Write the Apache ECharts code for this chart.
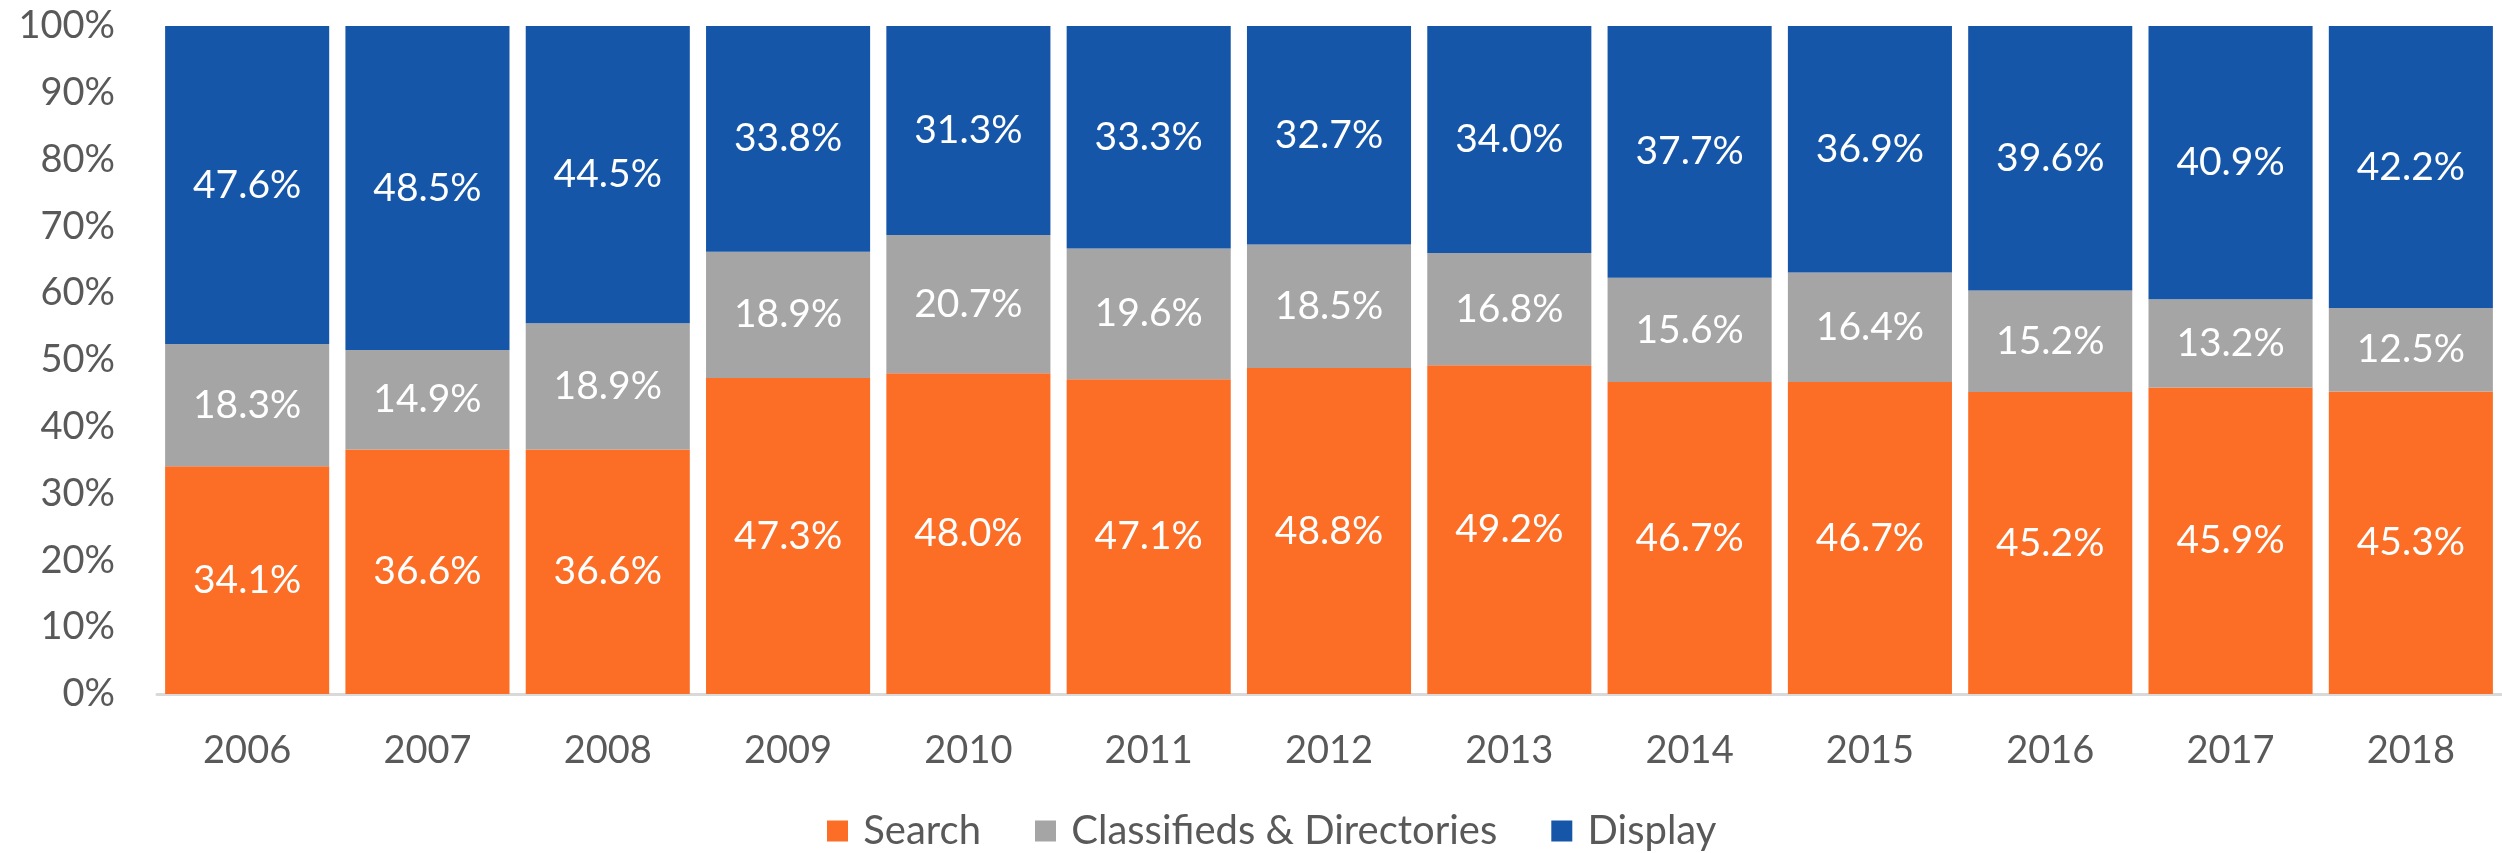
<!DOCTYPE html>
<html>
<head>
<meta charset="utf-8">
<script src="https://cdn.jsdelivr.net/npm/echarts@6/dist/echarts.min.js"></script>
<style>
  html, body { margin: 0; padding: 0; background: #fff; }
  #chart { width: 2502px; height: 853px; }
</style>
</head>
<body>
<div id="chart"></div>
<script>
// data (share of spend, %)
const years = ['2006', '2007', '2008', '2009', '2010', '2011', '2012', '2013', '2014', '2015', '2016', '2017', '2018'];
const search = [34.1, 36.6, 36.6, 47.3, 48.0, 47.1, 48.8, 49.2, 46.7, 46.7, 45.2, 45.9, 45.3];
const classifieds = [18.3, 14.9, 18.9, 18.9, 20.7, 19.6, 18.5, 16.8, 15.6, 16.4, 15.2, 13.2, 12.5];
const display = [47.6, 48.5, 44.5, 33.8, 31.3, 33.3, 32.7, 34.0, 37.7, 36.9, 39.6, 40.9, 42.2];

const font = 'Lato, "Noto Sans", sans-serif';
const textGrey = '#595959';

const myChart = echarts.init(document.getElementById('chart'));

const barLabel = {
  show: true,
  position: 'inside',
  color: '#fff',
  fontFamily: font,
  fontSize: 39,
  formatter: (p) => p.value.toFixed(1) + '%',
};

const makeSeries = (name, data, color) => ({
  name: name,
  type: 'bar',
  stack: 'total',
  barCategoryGap: '9%',
  data: data,
  itemStyle: { color: color },
  label: barLabel,
  emphasis: { disabled: true },
});

const option = {
  animation: false,
  textStyle: { fontFamily: font },
  grid: {
    left: 157,
    right: 1,
    top: 26,
    bottom: 159,
  },
  legend: {
    top: 806,
    left: 822,
    itemWidth: 21,
    itemHeight: 21,
    itemGap: 54,
    icon: 'rect',
    formatter: (name) => ' ' + name,
    textStyle: { fontSize: 40, color: textGrey, fontFamily: font },
    data: ['Search', 'Classifieds & Directories', 'Display'],
  },
  xAxis: {
    type: 'category',
    data: years,
    axisLine: { lineStyle: { color: '#d9d9d9', width: 3 } },
    axisTick: { show: false },
    axisLabel: { color: textGrey, fontSize: 38, margin: 38, fontFamily: font },
  },
  yAxis: {
    type: 'value',
    min: 0,
    max: 100,
    interval: 10,
    axisLine: { show: false },
    axisTick: { show: false },
    splitLine: { show: false },
    axisLabel: { color: textGrey, fontSize: 38, margin: 42, fontFamily: font, formatter: '{value}%' },
  },
  series: [
    makeSeries('Search', search, '#fc6d26'),
    makeSeries('Classifieds & Directories', classifieds, '#a5a5a5'),
    makeSeries('Display', display, '#1656a8'),
  ],
};

myChart.setOption(option);
window.addEventListener('resize', () => {
  myChart.resize();
});
</script>
</body>
</html>
